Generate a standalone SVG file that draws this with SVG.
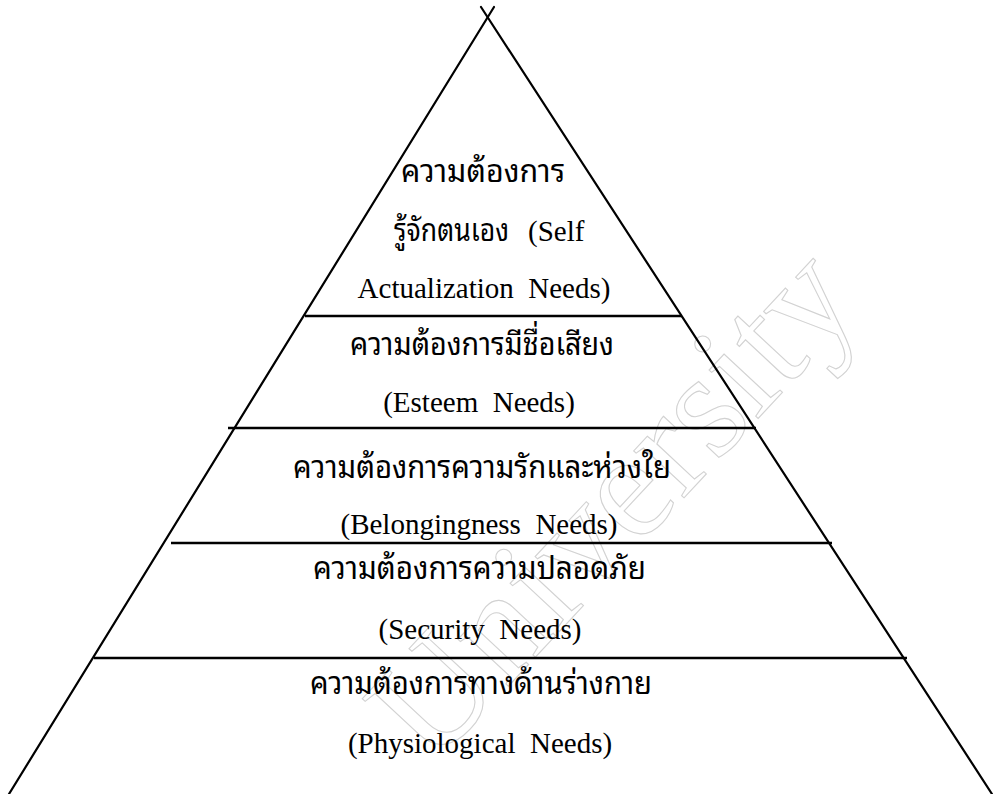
<svg xmlns="http://www.w3.org/2000/svg" width="995" height="794" viewBox="0 0 995 794">
<style>
.edge{stroke:#000;stroke-width:2.2;fill:none;stroke-linecap:round}
.div{stroke:#000;stroke-width:2.6;fill:none}
.th{font-family:"Noto Sans Thai Looped","Noto Serif Thai","Noto Sans Thai","Loma","Garuda","Liberation Serif",serif;font-size:32px;fill:#000}
.en{font-family:"Liberation Serif","Times New Roman",serif;font-size:29px;fill:#000;text-anchor:middle}
.enl{font-family:"Liberation Serif","Times New Roman",serif;font-size:29px;fill:#000}
.wm{font-family:"Liberation Serif",serif;font-size:150px;fill:none;stroke:#d2d2d2;stroke-width:1.1}
</style>
<rect width="995" height="794" fill="#fff"/>
<g id="watermark">
<text class="wm" transform="translate(432,768) rotate(-47)">University</text>
</g>
<g id="connectors">
<line class="edge" x1="494" y1="7" x2="9" y2="794"/>
<line class="edge" x1="481" y1="7" x2="992" y2="794"/>
<line class="div" x1="305" y1="316" x2="682" y2="316"/>
<line class="div" x1="228" y1="428" x2="756" y2="428"/>
<line class="div" x1="171" y1="543" x2="832" y2="543"/>
<line class="div" x1="94" y1="658" x2="907" y2="658"/>
</g>
<g id="self-actualization">
<text class="th" x="401" y="182" textLength="164" lengthAdjust="spacingAndGlyphs">ความต้องการ</text>
<text class="th" x="394" y="241" textLength="115" lengthAdjust="spacingAndGlyphs">รู้จักตนเอง</text>
<text class="enl" x="528" y="241">(Self</text>
<text class="en" x="484" y="298">Actualization&#160;&#160;Needs)</text>
</g>
<g id="esteem">
<text class="th" x="350" y="355" textLength="264" lengthAdjust="spacingAndGlyphs">ความต้องการมีชื่อเสียง</text>
<text class="en" x="479" y="412">(Esteem&#160;&#160;Needs)</text>
</g>
<g id="belongingness">
<text class="th" x="293" y="478" textLength="378" lengthAdjust="spacingAndGlyphs">ความต้องการความรักและห่วงใย</text>
<text class="en" x="479" y="534">(Belongingness&#160;&#160;Needs)</text>
</g>
<g id="security">
<text class="th" x="313" y="579" textLength="333" lengthAdjust="spacingAndGlyphs">ความต้องการความปลอดภัย</text>
<text class="en" x="480" y="639">(Security&#160;&#160;Needs)</text>
</g>
<g id="physiological">
<text class="th" x="310" y="694" textLength="342" lengthAdjust="spacingAndGlyphs">ความต้องการทางด้านร่างกาย</text>
<text class="en" x="480" y="753">(Physiological&#160;&#160;Needs)</text>
</g>
</svg>
